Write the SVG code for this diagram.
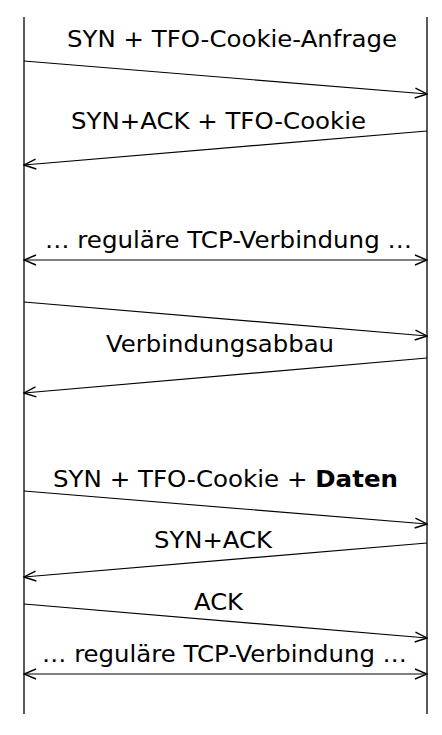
<svg xmlns="http://www.w3.org/2000/svg" width="442" height="735" viewBox="0 0 442 735">
<style>
.life{stroke:#000;stroke-width:1.3;fill:none}
.msg{stroke:#000;stroke-width:1.2;fill:none}
.lbl{font-family:"DejaVu Sans","Noto Sans",sans-serif;font-size:23.5px;fill:#000}
</style>
<defs>
<marker id="ah" viewBox="0 0 14 12" refX="13" refY="6" markerWidth="14" markerHeight="12" markerUnits="userSpaceOnUse" orient="auto-start-reverse">
<path d="M1,1 L13,6 L1,11" fill="none" stroke="#000" stroke-width="1.4"/>
</marker>
</defs>
<rect width="442" height="735" fill="#fff"/>
<g id="client"><line class="life" x1="24" y1="17" x2="24" y2="714"/></g>
<g id="server"><line class="life" x1="427" y1="17" x2="427" y2="714"/></g>
<g id="connectors">
<line class="msg" x1="24" y1="61" x2="427" y2="94" marker-end="url(#ah)"/>
<line class="msg" x1="427" y1="131" x2="24" y2="165" marker-end="url(#ah)"/>
<line class="msg" x1="24" y1="260" x2="427" y2="260" marker-start="url(#ah)" marker-end="url(#ah)"/>
<line class="msg" x1="24" y1="302" x2="427" y2="336" marker-end="url(#ah)"/>
<line class="msg" x1="427" y1="358" x2="24" y2="393" marker-end="url(#ah)"/>
<line class="msg" x1="24" y1="491" x2="427" y2="524" marker-end="url(#ah)"/>
<line class="msg" x1="427" y1="543" x2="24" y2="577" marker-end="url(#ah)"/>
<line class="msg" x1="24" y1="604" x2="427" y2="638" marker-end="url(#ah)"/>
<line class="msg" x1="24" y1="674" x2="427" y2="674" marker-start="url(#ah)" marker-end="url(#ah)"/>
</g>
<g id="labels">
<text class="lbl" x="67" y="46.5" textLength="330" lengthAdjust="spacingAndGlyphs">SYN + TFO-Cookie-Anfrage</text>
<text class="lbl" x="71" y="129" textLength="295" lengthAdjust="spacingAndGlyphs">SYN+ACK + TFO-Cookie</text>
<text class="lbl" x="45" y="248" textLength="367" lengthAdjust="spacingAndGlyphs">… reguläre TCP-Verbindung …</text>
<text class="lbl" x="106" y="352" textLength="228" lengthAdjust="spacingAndGlyphs">Verbindungsabbau</text>
<text class="lbl" x="53" y="487" textLength="345" lengthAdjust="spacingAndGlyphs">SYN + TFO-Cookie + <tspan font-weight="bold">Daten</tspan></text>
<text class="lbl" x="154" y="548" textLength="118" lengthAdjust="spacingAndGlyphs">SYN+ACK</text>
<text class="lbl" x="194" y="610" textLength="49" lengthAdjust="spacingAndGlyphs">ACK</text>
<text class="lbl" x="42" y="662" textLength="365" lengthAdjust="spacingAndGlyphs">… reguläre TCP-Verbindung …</text>
</g>
</svg>
